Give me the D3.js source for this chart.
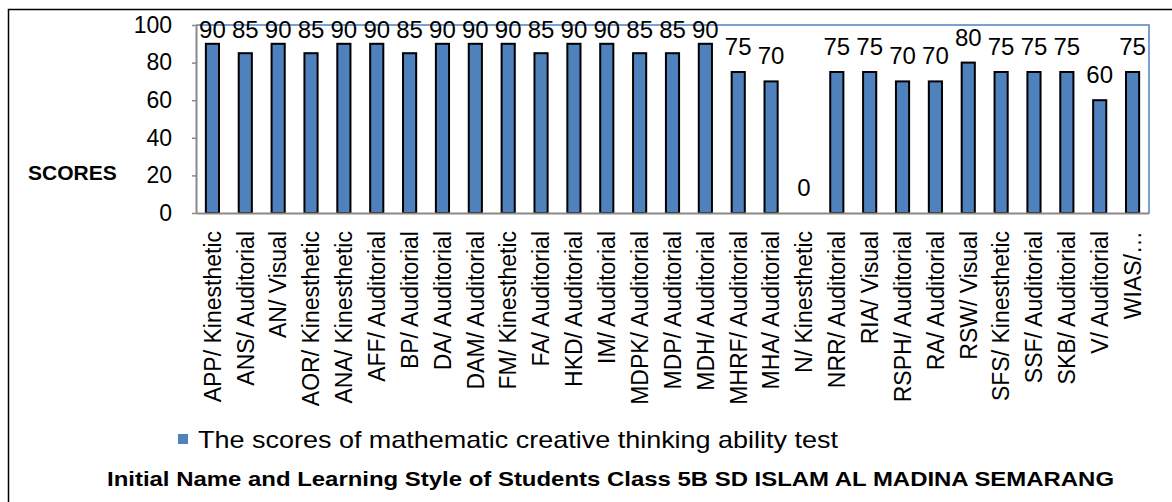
<!doctype html>
<html lang="en">
<head>
<meta charset="utf-8" />
<title>Scores of mathematic creative thinking ability test</title>
<script src="https://d3js.org/d3.v7.min.js"></script>
<style>
  body { margin: 0; background: #fff; }
  svg text { font-family: "Liberation Sans", Arial, sans-serif; fill: #000; }
</style>
</head>
<body>
<div id="chart"></div>
<script>
// student initial / learning style
var students = ["APP/ Kinesthetic", "ANS/ Auditorial", "AN/ Visual", "AOR/ Kinesthetic",
  "ANA/ Kinesthetic", "AFF/ Auditorial", "BP/ Auditorial", "DA/ Auditorial", "DAM/ Auditorial",
  "FM/ Kinesthetic", "FA/ Auditorial", "HKD/ Auditorial", "IM/ Auditorial", "MDPK/ Auditorial",
  "MDP/ Auditorial", "MDH/ Auditorial", "MHRF/ Auditorial", "MHA/ Auditorial", "N/ Kinesthetic",
  "NRR/ Auditorial", "RIA/ Visual", "RSPH/ Auditorial", "RA/ Auditorial", "RSW/ Visual",
  "SFS/ Kinesthetic", "SSF/ Auditorial", "SKB/ Auditorial", "V/ Auditorial", "WIAS/\u2026"];
var scores = [90, 85, 90, 85, 90, 90, 85, 90, 90, 90, 85, 90, 90, 85, 85, 90,
  75, 70, 0, 75, 75, 70, 70, 80, 75, 75, 75, 60, 75];
var yTicks = [0, 20, 40, 60, 80, 100];
var seriesName = "The scores of mathematic creative thinking ability test";
var xTitle = "Initial Name and Learning Style of Students Class 5B SD ISLAM AL MADINA SEMARANG";
var yTitle = "SCORES";

var width = 1172, height = 502;
var plot = { left: 196, right: 1149, top: 25, bottom: 213 };
var barColor = "#4f81bd";

var models = students.map((s, i) => ({ name: s, score: scores[i] }));

var svg = d3.select("#chart").append("svg")
  .attr("width", width).attr("height", height);

// chart frame (cropped on right and bottom)
svg.append("path")
  .attr("d", `M8.5,${height} L8.5,9.5 L${width},9.5`)
  .attr("fill", "none").attr("stroke", "#000").attr("stroke-width", 1.5);

var x = d3.scaleBand().domain(students)
  .range([plot.left, plot.right]).paddingInner(0.6).paddingOuter(0.3);
var y = d3.scaleLinear().domain([0, 100]).range([plot.bottom, plot.top]);

// plot area border (top + right)
svg.append("path")
  .attr("d", `M${plot.left},${plot.top} L${plot.right},${plot.top} L${plot.right},${plot.bottom}`)
  .attr("fill", "none").attr("stroke", "#4f81bd").attr("stroke-width", 1.5);

// bars
svg.selectAll(".bar").data(models).enter().append("rect")
  .attr("class", "bar")
  .attr("x", d => x(d.name))
  .attr("y", d => y(d.score))
  .attr("width", x.bandwidth())
  .attr("height", d => y(0) - y(d.score))
  .attr("fill", barColor)
  .attr("stroke", "#000").attr("stroke-width", 2);

// value labels
svg.selectAll(".val").data(models).enter().append("text")
  .attr("class", "val")
  .attr("x", d => x(d.name) + x.bandwidth() / 2)
  .attr("y", d => Math.max(y(d.score) - 17, 38))
  .attr("text-anchor", "middle")
  .style("font-size", "24px")
  .text(d => d.score);

// y axis
var yAxis = svg.append("g")
  .attr("transform", `translate(${plot.left},0)`)
  .call(d3.axisLeft(y).tickValues(yTicks).tickSize(4).tickSizeOuter(0).tickPadding(20));
yAxis.select(".domain").attr("stroke", "#898989").attr("stroke-width", 2);
yAxis.selectAll(".tick line").attr("stroke", "#898989").attr("stroke-width", 1.5);
yAxis.selectAll("text").style("font-size", "23px").attr("fill", "#000");

// x axis
var xAxis = svg.append("g")
  .attr("transform", `translate(0,${plot.bottom})`)
  .call(d3.axisBottom(x).tickSize(0).tickSizeOuter(0));
xAxis.select(".domain").attr("stroke", "#898989").attr("stroke-width", 2);
xAxis.selectAll("text")
  .style("font-size", "23px").attr("fill", "#000")
  .attr("text-anchor", "end")
  .attr("transform", "translate(0,18) rotate(-90)")
  .attr("x", 0).attr("y", 0).attr("dy", "0.36em");

// y title
svg.append("text")
  .attr("x", 28).attr("y", 180)
  .style("font-size", "21px").style("font-weight", "bold")
  .text(yTitle);

// legend
svg.append("rect")
  .attr("x", 178).attr("y", 434).attr("width", 10).attr("height", 10)
  .attr("fill", barColor);
svg.append("text")
  .attr("x", 198).attr("y", 448)
  .style("font-size", "24px")
  .attr("textLength", 640).attr("lengthAdjust", "spacingAndGlyphs")
  .text(seriesName);

// x title
svg.append("text")
  .attr("x", 107).attr("y", 486)
  .style("font-size", "21px").style("font-weight", "bold")
  .attr("textLength", 1007).attr("lengthAdjust", "spacingAndGlyphs")
  .text(xTitle);
</script>
</body>
</html>
